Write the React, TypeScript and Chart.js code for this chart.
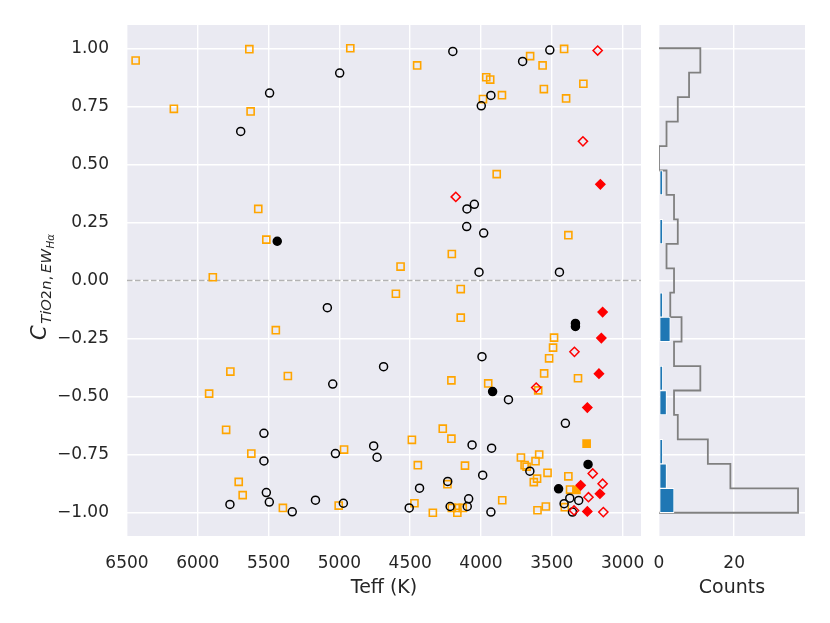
import React, { useEffect, useRef } from 'react';
import { Chart, registerables } from 'chart.js';

Chart.register(...registerables);

// ---------- data (Teff [K], C value) ----------
const blackOpen: [number, number][] = [
  [4199, 0.986], [3514, 0.992], [3706, 0.943], [4998, 0.893], [5493, 0.807], [3930, 0.797],
  [3998, 0.752], [5697, 0.642], [4047, 0.328], [4099, 0.308], [4101, 0.232], [3981, 0.204],
  [4014, 0.036], [3446, 0.036], [5085, -0.117], [3993, -0.328], [4688, -0.371], [5047, -0.446],
  [3806, -0.513], [3404, -0.615], [5533, -0.658], [4063, -0.708], [4758, -0.712], [3925, -0.722],
  [5028, -0.745], [4734, -0.761], [5533, -0.777], [3655, -0.821], [3988, -0.838], [4235, -0.865],
  [4434, -0.894], [5516, -0.913], [3373, -0.937], [4087, -0.94], [5169, -0.946], [3310, -0.947],
  [5495, -0.954], [4972, -0.959], [3413, -0.961], [5773, -0.964], [4097, -0.973], [4218, -0.973],
  [4507, -0.979], [5333, -0.996], [3354, -0.997], [3930, -0.997],
];
const blackFilled: [number, number][] = [
  [5439, 0.169], [3333, -0.185], [3333, -0.198], [3918, -0.478], [3244, -0.792], [3452, -0.897],
];
const orangeOpen: [number, number][] = [
  [6439, 0.947], [5636, 0.996], [4923, 1.0], [6169, 0.739], [5627, 0.728], [5573, 0.308],
  [5516, 0.176], [5894, 0.014], [4451, 0.926], [3413, 0.997], [3653, 0.966], [3565, 0.926],
  [3963, 0.875], [3935, 0.865], [3277, 0.847], [3556, 0.824], [3852, 0.798], [3986, 0.781],
  [3399, 0.784], [3889, 0.458], [3383, 0.195], [4206, 0.114], [4568, 0.06], [4143, -0.037],
  [4601, -0.057], [5449, -0.214], [5770, -0.392], [5364, -0.411], [5920, -0.487], [5800, -0.643],
  [5622, -0.745], [4967, -0.728], [5711, -0.867], [5683, -0.924], [5399, -0.979], [5005, -0.969],
  [4143, -0.16], [3484, -0.246], [3491, -0.289], [3519, -0.335], [3554, -0.4], [3315, -0.421],
  [4209, -0.43], [3949, -0.443], [3596, -0.473], [4270, -0.638], [4488, -0.686], [4209, -0.681],
  [3718, -0.762], [3589, -0.749], [3615, -0.778], [3692, -0.795], [3678, -0.802], [4446, -0.795],
  [4113, -0.797], [3530, -0.828], [3604, -0.853], [3627, -0.868], [3383, -0.843], [3371, -0.9],
  [3408, -0.976], [3542, -0.973], [3601, -0.989], [3850, -0.946], [4237, -0.877], [4206, -0.979],
  [4167, -0.979], [4129, -0.979], [4167, -1.0], [4340, -1.0], [4470, -0.959],
];
const orangeFilled: [number, number][] = [
  [3254, -0.702], [3326, -0.902],
];
const redOpen: [number, number][] = [
  [3176, 0.99], [3280, 0.599], [4178, 0.36], [3340, -0.307], [3610, -0.461], [3211, -0.831],
  [3141, -0.875], [3241, -0.933], [3343, -0.99], [3136, -0.997],
];
const redFilled: [number, number][] = [
  [3157, 0.414], [3141, -0.136], [3150, -0.248], [3167, -0.401], [3249, -0.547], [3296, -0.882],
  [3160, -0.918], [3249, -0.994],
];

// histogram (19 bins between -1 and 1, bottom to top)
const histLow = -1;
const histHigh = 1;
const allCounts = [37, 19, 13, 5, 4, 11, 4, 6, 3, 4, 2, 5, 4, 2, 0, 2, 5, 8, 11];
const filledCounts = [4, 2, 1, 0, 2, 1, 0, 3, 1, 0, 0, 1, 0, 1, 0, 0, 0, 0, 0];

// axes
const teffMin = 2870;
const teffMax = 6500;
const teffTicks = [3000, 3500, 4000, 4500, 5000, 5500, 6000, 6500];
const cMin = -1.1;
const cMax = 1.1;
const countMax = 38.85;

const FONT = '"DejaVu Sans", "Liberation Sans", sans-serif';
const TEXT = '#262626';
const BG = '#EAEAF2';

const bgPlugin = {
  id: 'bgArea',
  beforeDraw(chart: any) {
    const { ctx, chartArea: a } = chart;
    ctx.save();
    ctx.fillStyle = BG;
    ctx.fillRect(a.left, a.top, a.right - a.left, a.bottom - a.top);
    ctx.restore();
  },
};

const mathLabelPlugin = {
  id: 'mathLabel',
  afterDraw(chart: any) {
    const ctx = chart.ctx as CanvasRenderingContext2D;
    const F = 21;
    const s = 0.7 * F;
    const ss = 0.49 * F;
    const d1 = 0.24 * F;
    const d2 = d1 + 0.2 * s;
    const segs: [string, number, boolean, number, number][] = [
      ['C', F, true, 0, 1.5],
      ['TiO', s, true, d1, 0],
      ['2', s, false, d1, 0],
      ['n', s, true, d1, 0],
      [',', s, false, d1, 0.2 * s],
      ['EW', s, true, d1, 0.5],
      ['H\u03b1', ss, true, d2, 0],
    ];
    const fontOf = (size: number, it: boolean) => `${it ? 'italic ' : ''}${size}px ${FONT}`;
    ctx.save();
    let total = 0;
    for (const [t, sz, it, , after] of segs) {
      ctx.font = fontOf(sz, it);
      total += ctx.measureText(t).width + after;
    }
    ctx.translate(46, 287 + total / 2);
    ctx.rotate(-Math.PI / 2);
    ctx.fillStyle = TEXT;
    ctx.textBaseline = 'alphabetic';
    ctx.textAlign = 'left';
    let x = 0;
    for (const [t, sz, it, dy, after] of segs) {
      ctx.font = fontOf(sz, it);
      ctx.fillText(t, x, dy);
      x += ctx.measureText(t).width + after;
    }
    ctx.restore();
  },
};

const toPts = (arr: [number, number][]) => arr.map(([x, y]) => ({ x, y }));

const gridOpts = { color: '#ffffff', lineWidth: 1.4, drawTicks: false };
const tickFont = { family: FONT, size: 17 };
const titleFont = { family: FONT, size: 19 };

const fitX = (sc: any) => {
  sc.height = 87;
  sc.paddingLeft = 0;
  sc.paddingRight = 0;
};

export default function App() {
  const mainRef = useRef<HTMLCanvasElement>(null);
  const histRef = useRef<HTMLCanvasElement>(null);

  useEffect(() => {
    const markerBase = { showLine: false, pointHoverRadius: 0 } as any;
    const main = new Chart(mainRef.current as HTMLCanvasElement, {
      type: 'scatter',
      data: {
        datasets: [
          {
            ...markerBase, label: 'redFilled', data: toPts(redFilled), pointStyle: 'rectRot',
            pointRadius: 4.6, borderWidth: 1.4, borderColor: '#ff0000', backgroundColor: '#ff0000',
          },
          {
            ...markerBase, label: 'redOpen', data: toPts(redOpen), pointStyle: 'rectRot',
            pointRadius: 4.6, borderWidth: 1.5, borderColor: '#ff0000', backgroundColor: 'rgba(0,0,0,0)',
          },
          {
            ...markerBase, label: 'blackFilled', data: toPts(blackFilled), pointStyle: 'circle',
            pointRadius: 4, borderWidth: 1.5, borderColor: '#000000', backgroundColor: '#000000',
          },
          {
            ...markerBase, label: 'blackOpen', data: toPts(blackOpen), pointStyle: 'circle',
            pointRadius: 4, borderWidth: 1.5, borderColor: '#000000', backgroundColor: 'rgba(0,0,0,0)',
          },
          {
            ...markerBase, label: 'orangeFilled', data: toPts(orangeFilled), pointStyle: 'rect',
            pointRadius: 5, borderWidth: 1.6, borderColor: '#ffa500', backgroundColor: '#ffa500',
          },
          {
            ...markerBase, label: 'orangeOpen', data: toPts(orangeOpen), pointStyle: 'rect',
            pointRadius: 5, borderWidth: 1.6, borderColor: '#ffa500', backgroundColor: 'rgba(0,0,0,0)',
          },
          {
            label: 'zero', data: [{ x: teffMax, y: 0 }, { x: teffMin, y: 0 }], showLine: true,
            pointRadius: 0, borderColor: '#b3b3b3', borderWidth: 1.5, borderDash: [5.5, 2.5],
          } as any,
        ],
      },
      options: {
        animation: false,
        responsive: false,
        events: [],
        layout: { padding: { top: 25, right: 9, left: 0, bottom: 0 } },
        plugins: { legend: { display: false }, tooltip: { enabled: false } },
        scales: {
          x: {
            type: 'linear', reverse: true, min: teffMin, max: teffMax,
            afterBuildTicks: (sc: any) => { sc.ticks = teffTicks.map((v) => ({ value: v })); },
            ticks: {
              autoSkip: false, maxRotation: 0, padding: 17, color: TEXT, font: tickFont,
              callback: (v: any) => String(v),
            },
            grid: gridOpts,
            border: { display: false },
            title: { display: true, text: 'Teff (K)', color: TEXT, font: titleFont, padding: { top: 0, bottom: 24 } },
            afterFit: fitX,
          },
          y: {
            type: 'linear', min: cMin, max: cMax,
            ticks: {
              stepSize: 0.25, includeBounds: false, autoSkip: false, padding: 18, color: TEXT, font: tickFont,
              callback: (v: any) => Number(v).toFixed(2).replace('-', '\u2212'),
            },
            grid: gridOpts,
            border: { display: false },
            afterFit: (sc: any) => { sc.width = 127; sc.paddingTop = 0; sc.paddingBottom = 0; },
          },
        },
      } as any,
      plugins: [bgPlugin, mathLabelPlugin],
    });

    const n = allCounts.length;
    const w = (histHigh - histLow) / n;
    const edges = Array.from({ length: n + 1 }, (_, i) => histLow + i * w);
    const centers = allCounts.map((_, i) => (edges[i] + edges[i + 1]) / 2);
    const step: { x: number; y: number }[] = [{ x: 0, y: edges[0] }];
    allCounts.forEach((c, i) => {
      step.push({ x: c, y: edges[i] });
      step.push({ x: c, y: edges[i + 1] });
    });
    step.push({ x: 0, y: edges[n] });

    const hist = new Chart(histRef.current as HTMLCanvasElement, {
      type: 'bar',
      data: {
        datasets: [
          {
            type: 'bar',
            label: 'filled',
            data: filledCounts.map((c, i) => ({ x: c, y: centers[i] })),
            backgroundColor: '#1f77b4',
            borderColor: '#ffffff',
            borderWidth: 1,
            borderSkipped: false,
            barPercentage: 1,
            categoryPercentage: 1,
          } as any,
          {
            type: 'scatter',
            label: 'all',
            data: step,
            showLine: true,
            pointRadius: 0,
            borderColor: '#808080',
            borderWidth: 1.8,
            clip: 0,
          } as any,
        ],
      },
      options: {
        animation: false,
        responsive: false,
        events: [],
        indexAxis: 'y',
        layout: { padding: { top: 25, right: 25, left: 0, bottom: 0 } },
        plugins: { legend: { display: false }, tooltip: { enabled: false } },
        scales: {
          x: {
            type: 'linear', min: 0, max: countMax,
            ticks: {
              stepSize: 20, includeBounds: false, autoSkip: false, maxRotation: 0, padding: 17,
              color: TEXT, font: tickFont, callback: (v: any) => String(v),
            },
            grid: gridOpts,
            border: { display: false },
            title: { display: true, text: 'Counts', color: TEXT, font: titleFont, padding: { top: 0, bottom: 24 } },
            afterFit: fitX,
          },
          y: {
            type: 'linear', min: cMin, max: cMax, offset: false,
            ticks: { stepSize: 0.25, includeBounds: false, display: false },
            grid: { ...gridOpts, offset: false },
            border: { display: false },
            afterFit: (sc: any) => { sc.width = 9; sc.paddingTop = 0; sc.paddingBottom = 0; },
          },
        },
      } as any,
      plugins: [bgPlugin],
    });

    return () => {
      main.destroy();
      hist.destroy();
    };
  }, []);

  return (
    <div style={{ position: 'absolute', left: 0, top: 0, width: 830, height: 623, background: '#ffffff' }}>
      <canvas ref={mainRef} width={650} height={623}
        style={{ position: 'absolute', left: 0, top: 0, width: 650, height: 623, display: 'block' }} />
      <canvas ref={histRef} width={180} height={623}
        style={{ position: 'absolute', left: 650, top: 0, width: 180, height: 623, display: 'block' }} />
    </div>
  );
}
